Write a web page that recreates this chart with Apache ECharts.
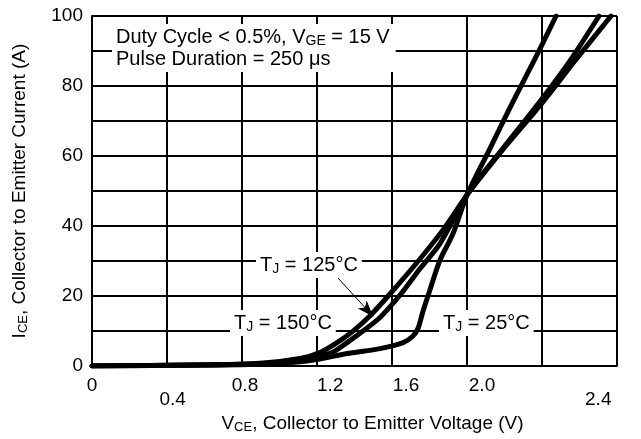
<!DOCTYPE html>
<html>
<head>
<meta charset="utf-8">
<script src="https://cdn.jsdelivr.net/npm/echarts@6/dist/echarts.min.js"></script>
<style>
html,body{margin:0;padding:0;background:#fff;}
#chart{width:641px;height:439px;}
</style>
</head>
<body>
<div id="chart"></div>
<script>
// ---- data (V in volts, I in amps) ----
const v25  = [0, 0.576, 1.003, 1.2, 1.36, 1.536, 1.659, 1.712, 1.739, 1.765, 1.803, 1.856, 1.925, 2.0, 2.123, 2.24, 2.363, 2.475];
const i25  = [0, 0.3,   0.8,   1.9, 3.6,  5.0,   6.7,   8.6,   10.8,  15.6,  21.9,  30.3,  37.8,  48.9, 62.2, 75,   87.8,  100];
const v125 = [0, 0.576, 1.003, 1.269, 1.36, 1.445, 1.536, 1.643, 1.749, 1.856, 2.0, 2.192, 2.389, 2.549, 2.704];
const i125 = [0, 0.3,   0.8,   3.6,   6.7,  10,    13.9,  20.3,  27.8,  35,    48.9, 62.2, 75.6,  87.2,  100];
const v150 = [0, 0.576, 0.896, 1.109, 1.216, 1.307, 1.392, 1.483, 1.589, 1.749, 1.883, 2.0, 2.192, 2.389, 2.576, 2.768];
const i150 = [0, 0.3,   0.8,   2.2,   3.9,   6.7,   10,    14.4,  20.6,  30.6,  39.7,  48.9, 61.9, 74.4,  87.2,  100];

const xLabelValues = [0, 0.43, 0.816, 1.27, 1.675, 2.08, 2.70];
const xLabelTexts  = ['0', '0.4', '0.8', '1.2', '1.6', '2.0', '2.4'];
const xLabelLow    = [false, true, false, false, false, false, true];
const yTickLabels  = [0, 20, 40, 60, 80, 100];

const arrowFrom = [1.296, 26.1];
const arrowTo   = [1.499, 14.2];

function zip(a, b) { return a.map((v, i) => [v, b[i]]); }

const FONT = '"Liberation Sans", Arial, Helvetica, sans-serif';
const chart = echarts.init(document.getElementById('chart'), null, {renderer: 'canvas'});

const lineSeries = (name, data) => ({
  name, type: 'line', data, showSymbol: false, smooth: 0.25,
  lineStyle: {color: '#000', width: 5, cap: 'round', join: 'round'}, z: 5, animation: false
});

const s125 = lineSeries('125', zip(v125, i125));
s125.markLine = {
  silent: true, animation: false, symbol: ['none', 'arrow'], symbolSize: [9, 16],
  label: {show: false},
  lineStyle: {color: '#000', width: 1, type: 'solid'},
  data: [[{coord: arrowFrom}, {coord: arrowTo}]]
};

const option = {
  backgroundColor: '#fff',
  animation: false,
  textStyle: {fontFamily: FONT, color: '#000'},
  grid: {left: 92, right: 24, top: 16, bottom: 63, show: false},
  xAxis: {
    type: 'value', min: 0, max: 2.8, interval: 0.4,
    axisLine: {show: true, lineStyle: {color: '#000', width: 2}},
    axisTick: {show: false},
    splitLine: {show: true, lineStyle: {color: '#000', width: 2}},
    axisLabel: {
      customValues: xLabelValues,
      margin: 10,
      formatter: function (v) {
        let k = 0, best = 1e9;
        xLabelValues.forEach((x, i) => { if (Math.abs(x - v) < best) { best = Math.abs(x - v); k = i; } });
        return xLabelLow[k] ? '{low|' + xLabelTexts[k] + '}' : '{up|' + xLabelTexts[k] + '}';
      },
      rich: {
        up: {fontSize: 19, fontFamily: FONT, color: '#000'},
        low: {fontSize: 19, fontFamily: FONT, color: '#000', padding: [14, 0, 0, 0]}
      }
    },
    name: '{b|V}{s|CE}{b|, Collector to Emitter Voltage (V)}',
    nameLocation: 'middle', nameGap: 42,
    nameTextStyle: {
      padding: [0, 0, 0, 36],
      rich: {
        b: {fontSize: 19, fontFamily: FONT, color: '#000'},
        s: {fontSize: 13, fontFamily: FONT, color: '#000', padding: [8, 0, 0, 0]}
      }
    }
  },
  yAxis: {
    type: 'value', min: 0, max: 100, interval: 10,
    axisLine: {show: true, lineStyle: {color: '#000', width: 2}},
    axisTick: {show: false},
    splitLine: {show: true, lineStyle: {color: '#000', width: 2}},
    axisLabel: {
      fontSize: 19, color: '#000', fontFamily: FONT, margin: 9,
      formatter: v => yTickLabels.includes(v) ? String(v) : ''
    },
    name: '{b|I}{s|CE}{b|, Collector to Emitter Current (A)}',
    nameLocation: 'middle', nameRotate: 90, nameGap: 62,
    nameTextStyle: {
      rich: {
        b: {fontSize: 19, fontFamily: FONT, color: '#000'},
        s: {fontSize: 13, fontFamily: FONT, color: '#000', padding: [8, 0, 0, 0]}
      }
    }
  },
  series: [
    lineSeries('25', zip(v25, i25)),
    s125,
    lineSeries('150', zip(v150, i150))
  ],
  graphic: [
    {
      type: 'text', left: 112, top: 24, z: 10,
      style: {
        text: '{b|Duty Cycle < 0.5%, V}{s|GE}{b| = 15 V}\n{b|Pulse Duration = 250 μs}',
        backgroundColor: '#fff', padding: [2, 6, 2, 4],
        rich: {
          b: {fontSize: 20, fontFamily: FONT, fill: '#000', lineHeight: 22},
          s: {fontSize: 14, fontFamily: FONT, fill: '#000', padding: [8, 0, 0, 0], lineHeight: 22}
        }
      }
    },
    {
      type: 'text', left: 256, top: 252, z: 10,
      style: {
        text: '{b|T}{s|J}{b| = 125°C}', backgroundColor: '#fff', padding: [2, 4, 2, 4],
        rich: {
          b: {fontSize: 20, fontFamily: FONT, fill: '#000'},
          s: {fontSize: 14, fontFamily: FONT, fill: '#000', padding: [8, 0, 0, 0]}
        }
      }
    },
    {
      type: 'text', left: 230, top: 310, z: 10,
      style: {
        text: '{b|T}{s|J}{b| = 150°C}', backgroundColor: '#fff', padding: [2, 4, 2, 4],
        rich: {
          b: {fontSize: 20, fontFamily: FONT, fill: '#000'},
          s: {fontSize: 14, fontFamily: FONT, fill: '#000', padding: [8, 0, 0, 0]}
        }
      }
    },
    {
      type: 'text', left: 439, top: 310, z: 10,
      style: {
        text: '{b|T}{s|J}{b| = 25°C}', backgroundColor: '#fff', padding: [2, 4, 2, 4],
        rich: {
          b: {fontSize: 20, fontFamily: FONT, fill: '#000'},
          s: {fontSize: 14, fontFamily: FONT, fill: '#000', padding: [8, 0, 0, 0]}
        }
      }
    }
  ]
};
chart.setOption(option);
</script>
</body>
</html>
